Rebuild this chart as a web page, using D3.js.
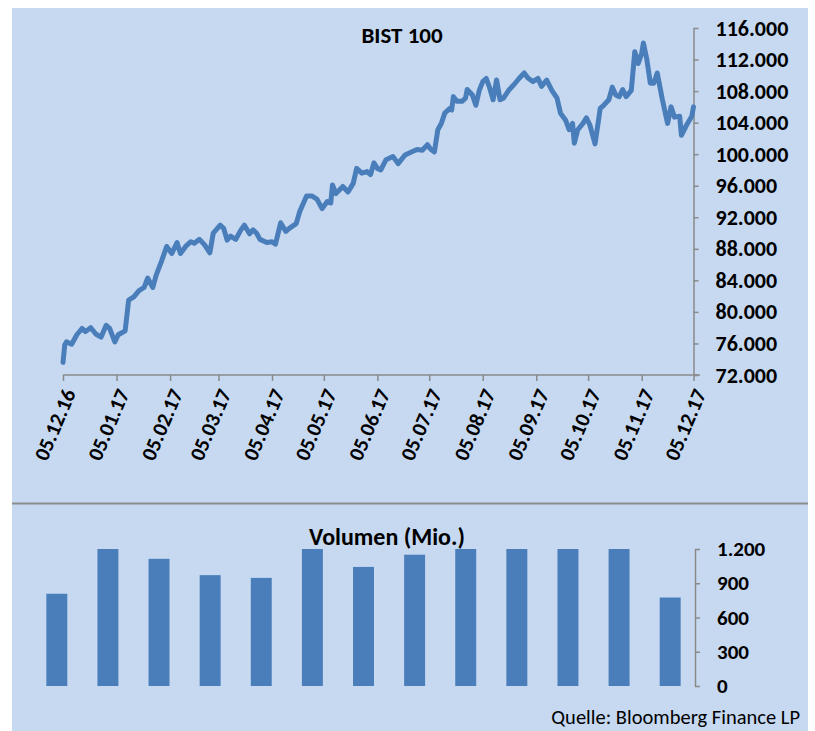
<!DOCTYPE html>
<html>
<head>
<meta charset="utf-8">
<script src="https://cdn.jsdelivr.net/npm/d3@7"></script>
<style>
  body { margin: 0; background: #fff; }
  text { font-family: Carlito, Lato, "Open Sans", sans-serif; fill: #000; }
</style>
</head>
<body>
<svg id="chart"></svg>
<script>
// BIST 100 closing levels
const priceDates = [
  "2016-12-05","2016-12-06","2016-12-07","2016-12-10","2016-12-13","2016-12-16","2016-12-18","2016-12-21",
  "2016-12-24","2016-12-27","2016-12-30","2017-01-01","2017-01-04","2017-01-06","2017-01-10","2017-01-12",
  "2017-01-15","2017-01-18","2017-01-21","2017-01-23","2017-01-26","2017-01-28","2017-01-31","2017-02-03",
  "2017-02-06","2017-02-09","2017-02-11","2017-02-14","2017-02-17","2017-02-19","2017-02-22","2017-02-25",
  "2017-02-28","2017-03-02","2017-03-06","2017-03-08","2017-03-10","2017-03-12","2017-03-15","2017-03-18",
  "2017-03-20","2017-03-23","2017-03-25","2017-03-27","2017-03-29","2017-04-02","2017-04-05","2017-04-07",
  "2017-04-10","2017-04-13","2017-04-15","2017-04-19","2017-04-21","2017-04-25","2017-04-28","2017-05-01",
  "2017-05-04","2017-05-07","2017-05-09","2017-05-10","2017-05-12","2017-05-16","2017-05-19","2017-05-22",
  "2017-05-24","2017-05-27","2017-05-30","2017-06-01","2017-06-03","2017-06-05","2017-06-07","2017-06-10",
  "2017-06-14","2017-06-17","2017-06-21","2017-06-25","2017-06-28","2017-07-01","2017-07-04","2017-07-06",
  "2017-07-08","2017-07-10","2017-07-12","2017-07-14","2017-07-17","2017-07-18","2017-07-19","2017-07-21",
  "2017-07-24","2017-07-26","2017-07-27","2017-07-30","2017-08-01","2017-08-03","2017-08-05","2017-08-07",
  "2017-08-09","2017-08-11","2017-08-13","2017-08-15","2017-08-17","2017-08-20","2017-08-23","2017-08-26",
  "2017-08-29","2017-08-31","2017-09-03","2017-09-06","2017-09-08","2017-09-11","2017-09-14","2017-09-17",
  "2017-09-19","2017-09-22","2017-09-24","2017-09-26","2017-09-27","2017-09-29","2017-10-02","2017-10-04",
  "2017-10-06","2017-10-09","2017-10-12","2017-10-14","2017-10-17","2017-10-19","2017-10-21","2017-10-23",
  "2017-10-25","2017-10-27","2017-10-30","2017-11-01","2017-11-03","2017-11-05","2017-11-06","2017-11-08",
  "2017-11-10","2017-11-12","2017-11-14","2017-11-17","2017-11-20","2017-11-22","2017-11-24","2017-11-27",
  "2017-11-28","2017-12-01","2017-12-04","2017-12-05"
];
const priceValues = [
  73600, 75800, 76200, 75900, 77100, 77900, 77500, 78000,
  77200, 76800, 78300, 77900, 76200, 77100, 77600, 81500,
  81900, 82700, 83100, 84300, 83100, 84700, 86400, 88300,
  87400, 88800, 87400, 88300, 88900, 88700, 89200, 88500,
  87500, 90000, 91000, 90600, 89100, 89600, 89200, 90400,
  91000, 89900, 90400, 90000, 89200, 88800, 88900, 88600,
  91300, 90200, 90600, 91200, 92700, 94700, 94700, 94300,
  93100, 94000, 93800, 96100, 95000, 95900, 95200, 96300,
  98200, 97600, 97800, 97400, 98900, 98200, 98000, 99300,
  99700, 98800, 99900, 100300, 100600, 100500, 101200, 100600,
  100300, 103100, 103900, 105200, 105800, 105600, 107300, 106700,
  106700, 107100, 108200, 107500, 106200, 108100, 109200, 109600,
  108400, 106900, 109400, 106900, 107100, 108100, 108800, 109600,
  110300, 109700, 109200, 109600, 108600, 109400, 108100, 107100,
  105200, 104300, 103100, 103900, 101400, 103100, 103900, 104600,
  103700, 101300, 105800, 106200, 106900, 108500, 107500, 107300,
  108200, 107300, 108100, 113000, 111500, 112800, 114100, 112000,
  109000, 109000, 110300, 106900, 103900, 106000, 104700, 104800,
  102400, 103700, 104800, 106000
];
const priceTicks = [72000, 76000, 80000, 84000, 88000, 92000, 96000, 100000, 104000, 108000, 112000, 116000];
const monthTicks = ["2016-12-05","2017-01-05","2017-02-05","2017-03-05","2017-04-05","2017-05-05","2017-06-05",
  "2017-07-05","2017-08-05","2017-09-05","2017-10-05","2017-11-05","2017-12-05"];

// monthly volume in millions
const volumeMonths = ["Dez 16","Jan 17","Feb 17","Mär 17","Apr 17","Mai 17","Jun 17","Jul 17","Aug 17","Sep 17","Okt 17","Nov 17","Dez 17"];
const volumeValues = [808, 1200, 1114, 971, 947, 1200, 1043, 1150, 1200, 1200, 1200, 1200, 775];
const volumeTicks = [0, 300, 600, 900, 1200];

const W = 815, H = 731;
const blue = "#4A7EBB", axisGrey = "#8A8A8A";
const de = d3.formatLocale({decimal: ",", thousands: ".", grouping: [3], currency: ["", " €"]});
const fmt = de.format(",.0f");
const parse = d3.timeParse("%Y-%m-%d");
const dateFmt = d3.timeFormat("%d.%m.%y");

const svg = d3.select("#chart").attr("width", W).attr("height", H);

// panel background and divider
svg.append("rect").attr("x", 12).attr("y", 8).attr("width", 796).attr("height", H - 8).attr("fill", "#C6D9F1");
svg.append("line").attr("x1", 12).attr("x2", 808).attr("y1", 503.5).attr("y2", 503.5)
    .attr("stroke", "#8C8C8C").attr("stroke-width", 2);

// ---- price chart ----
const x = d3.scaleTime()
    .domain([parse(monthTicks[0]), parse(monthTicks[monthTicks.length - 1])])
    .range([63, 693.5]);
const y = d3.scaleLinear().domain([72000, 116000]).range([375, 28]);

const xAxis = svg.append("g").attr("transform", "translate(0,375)")
    .call(d3.axisBottom(x).tickValues(monthTicks.map(parse)).tickSize(6).tickSizeOuter(0).tickFormat(dateFmt));
xAxis.select(".domain").attr("d", "M63,0H700");
xAxis.selectAll("text")
    .attr("font-size", 21).attr("font-weight", "bold")
    .attr("text-anchor", "end").attr("dy", "0.35em").attr("y", 0)
    .attr("transform", "translate(6,15) rotate(-67)");

const yAxis = svg.append("g").attr("transform", "translate(693.5,0)")
    .call(d3.axisRight(y).tickValues(priceTicks).tickSize(5).tickSizeOuter(0).tickPadding(17).tickFormat(fmt));
yAxis.selectAll("text").attr("font-size", 22).attr("font-weight", "bold");

[xAxis, yAxis].forEach(a => {
  a.selectAll(".domain, .tick line").attr("stroke", axisGrey).attr("stroke-width", 1.5);
});

const line = d3.line().x(d => x(d.date)).y(d => y(d.value));
const series = priceDates.map((d, i) => ({date: parse(d), value: priceValues[i]}));
svg.append("path").datum(series)
    .attr("d", line)
    .attr("fill", "none").attr("stroke", blue).attr("stroke-width", 5)
    .attr("stroke-linejoin", "round").attr("stroke-linecap", "round");

svg.append("text").attr("x", 402).attr("y", 43).attr("text-anchor", "middle")
    .attr("font-size", 23).attr("font-weight", "bold").text("BIST 100");

// ---- volume chart ----
const xb = d3.scaleBand().domain(volumeMonths).range([31, 696]).paddingInner(0.59).paddingOuter(0.3);
const yb = d3.scaleLinear().domain([0, 1200]).range([686, 549]);

svg.append("g").selectAll("rect")
    .data(volumeMonths)
  .join("rect")
    .attr("x", d => xb(d))
    .attr("width", xb.bandwidth())
    .attr("y", (d, i) => yb(volumeValues[i]))
    .attr("height", (d, i) => yb(0) - yb(volumeValues[i]))
    .attr("fill", blue);

const ybAxis = svg.append("g").attr("transform", "translate(695,0)")
    .call(d3.axisRight(yb).tickValues(volumeTicks).tickSize(5).tickSizeOuter(0).tickPadding(17).tickFormat(fmt));
ybAxis.selectAll(".domain, .tick line").attr("stroke", axisGrey).attr("stroke-width", 1.5);
ybAxis.selectAll("text").attr("font-size", 21).attr("font-weight", "bold");

svg.append("text").attr("x", 387).attr("y", 545).attr("text-anchor", "middle")
    .attr("font-size", 24).attr("font-weight", "bold").text("Volumen (Mio.)");

svg.append("text").attr("x", 800).attr("y", 724).attr("text-anchor", "end")
    .attr("font-size", 20.5).text("Quelle: Bloomberg Finance LP");
</script>
</body>
</html>
